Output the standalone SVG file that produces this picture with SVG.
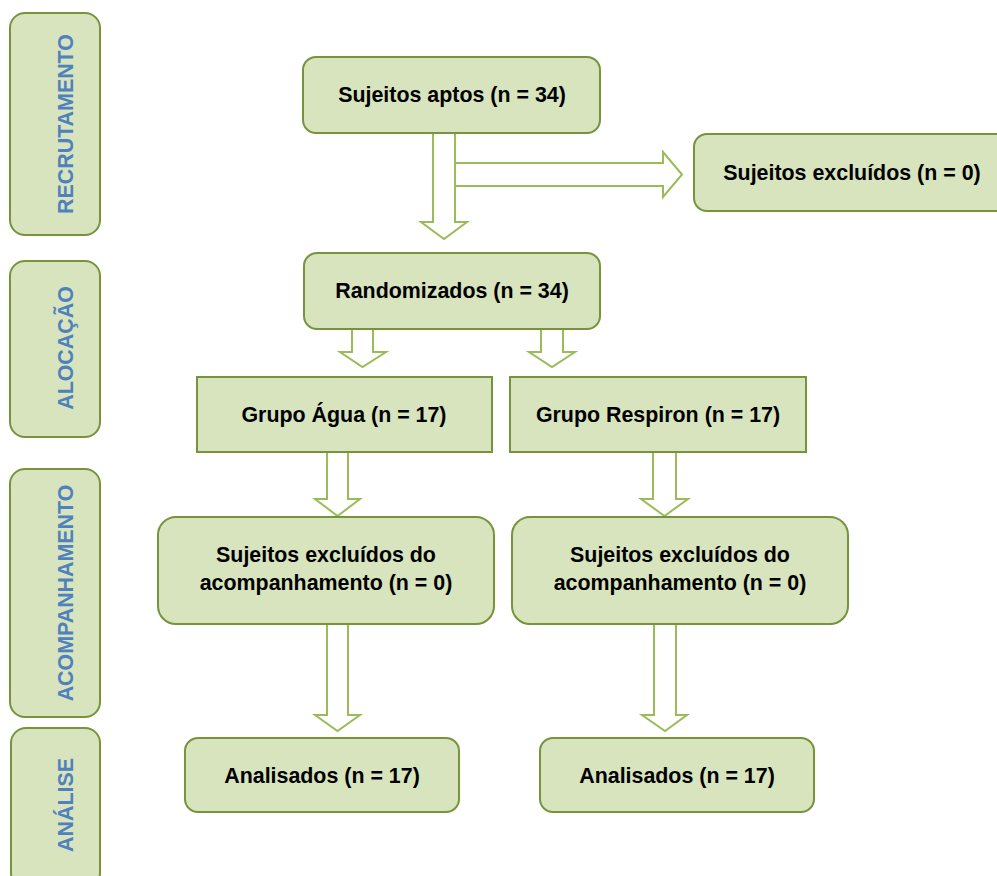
<svg xmlns="http://www.w3.org/2000/svg" width="997" height="876" viewBox="0 0 997 876">
<style>
.box{fill:#D7E4BD;stroke:#77933C;stroke-width:2}
.side{fill:#D7E4BD;stroke:#77933C;stroke-width:2}
.arr{fill:#FFFFFF;stroke:#9BBB59;stroke-width:2;stroke-linejoin:miter}
.t{font-family:"Liberation Sans",Arial,sans-serif;font-weight:bold;font-size:21.4px;fill:#000;text-anchor:middle}
.s{font-family:"Liberation Sans",Arial,sans-serif;font-weight:bold;font-size:21.4px;fill:#4F81BD;text-anchor:middle}
</style>
<rect width="997" height="876" fill="#FFFFFF"/>
<g id="side-recrutamento">
<rect class="side" x="10" y="13" width="90" height="222" rx="15"/>
<text class="s" transform="translate(72.5,124) rotate(-90)">RECRUTAMENTO</text>
</g>
<g id="side-alocacao">
<rect class="side" x="10" y="261" width="90" height="176" rx="15"/>
<text class="s" transform="translate(72.5,348) rotate(-90)">ALOCAÇÃO</text>
</g>
<g id="side-acompanhamento">
<rect class="side" x="10" y="469" width="90" height="248" rx="15"/>
<text class="s" transform="translate(72.5,593) rotate(-90)">ACOMPANHAMENTO</text>
</g>
<g id="side-analise">
<rect class="side" x="11" y="728" width="89" height="160" rx="15"/>
<text class="s" transform="translate(72.5,805) rotate(-90)">ANÁLISE</text>
</g>
<g id="connectors">
<polygon class="arr" points="433,133 455,133 455,222 467,222 444,239 421,222 433,222"/>
<polygon class="arr" points="455,163 663,163 663,152 682,174.5 663,197 663,186 455,186"/>
<polygon class="arr" points="352,329 373,329 373,352 386,352 362.5,367 340,352 352,352"/>
<polygon class="arr" points="541,329 563,329 563,352 575,352 552,367 529,352 541,352"/>
<polygon class="arr" points="327,452 348,452 348,499 360,499 337.5,516 315,499 327,499"/>
<polygon class="arr" points="653,452 676,452 676,499 688,499 664.5,516 641,499 653,499"/>
<polygon class="arr" points="327,624 348,624 348,715 360,715 337.5,731 315,715 327,715"/>
<polygon class="arr" points="654,624 676,624 676,715 687,715 665,731 642,715 654,715"/>
</g>
<g id="n-aptos">
<rect class="box" x="303" y="57" width="297" height="76" rx="13"/>
<text class="t" x="452" y="102">Sujeitos aptos (n = 34)</text>
</g>
<g id="n-excluidos">
<rect class="box" x="694" y="134" width="316" height="77" rx="13"/>
<text class="t" x="852" y="180">Sujeitos excluídos (n = 0)</text>
</g>
<g id="n-randomizados">
<rect class="box" x="304" y="253" width="296" height="76" rx="13"/>
<text class="t" x="452" y="298">Randomizados (n = 34)</text>
</g>
<g id="n-agua">
<rect class="box" x="197" y="377" width="295" height="75"/>
<text class="t" x="344" y="422">Grupo Água (n = 17)</text>
</g>
<g id="n-respiron">
<rect class="box" x="510" y="377" width="296" height="75"/>
<text class="t" x="658" y="422">Grupo Respiron (n = 17)</text>
</g>
<g id="n-excl-agua">
<rect class="box" x="158" y="517" width="336" height="107" rx="18"/>
<text class="t" x="326" y="562">Sujeitos excluídos do</text>
<text class="t" x="326" y="590">acompanhamento (n = 0)</text>
</g>
<g id="n-excl-respiron">
<rect class="box" x="512" y="517" width="336" height="107" rx="18"/>
<text class="t" x="680" y="562">Sujeitos excluídos do</text>
<text class="t" x="680" y="590">acompanhamento (n = 0)</text>
</g>
<g id="n-analisados-agua">
<rect class="box" x="185" y="738" width="274" height="74" rx="13"/>
<text class="t" x="322" y="783">Analisados (n = 17)</text>
</g>
<g id="n-analisados-respiron">
<rect class="box" x="540" y="738" width="274" height="74" rx="13"/>
<text class="t" x="677" y="783">Analisados (n = 17)</text>
</g>
</svg>
